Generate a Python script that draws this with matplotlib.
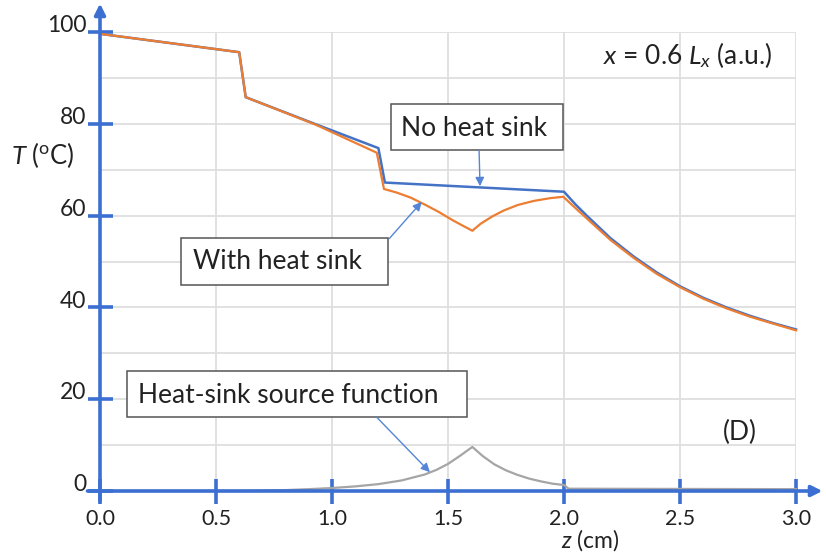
import matplotlib
matplotlib.use('Agg')
import matplotlib.pyplot as plt
from matplotlib.patches import Rectangle
from matplotlib.ticker import MultipleLocator
from matplotlib.transforms import ScaledTranslation

# ---- data ----
z_no = [0.0, 0.585, 0.60, 0.628, 0.93, 1.20, 1.228, 2.00, 2.05, 2.10, 2.20, 2.30,
        2.40, 2.50, 2.60, 2.70, 2.80, 2.90, 3.00]
T_no = [99.6, 95.7, 95.6, 85.8, 79.9, 74.7, 67.2, 65.2, 62.4, 59.9, 55.1, 51.1,
        47.6, 44.6, 42.1, 40.0, 38.2, 36.6, 35.2]

z_with = [0.0, 0.585, 0.60, 0.628, 0.93, 1.193, 1.224, 1.28, 1.34, 1.40, 1.46, 1.52,
          1.56, 1.605, 1.64, 1.69, 1.74, 1.80, 1.87, 1.94, 1.997, 2.05, 2.10, 2.20,
          2.30, 2.40, 2.50, 2.60, 2.70, 2.80, 2.90, 3.00]
T_with = [99.6, 95.7, 95.6, 85.8, 79.8, 73.7, 65.8, 65.0, 63.9, 62.4, 60.8, 59.0,
          57.9, 56.7, 58.2, 59.8, 61.1, 62.3, 63.2, 63.8, 64.1, 61.6, 59.3, 54.7,
          50.8, 47.3, 44.4, 41.9, 39.8, 38.0, 36.5, 35.0]

z_src = [0.0, 0.6, 0.7, 0.8, 0.9, 1.0, 1.1, 1.2, 1.3, 1.4, 1.45, 1.5, 1.55, 1.605,
         1.65, 1.70, 1.75, 1.80, 1.85, 1.90, 1.95, 2.00, 2.02, 3.00]
S_src = [0.0, 0.0, 0.1, 0.2, 0.4, 0.65, 1.0, 1.5, 2.3, 3.6, 4.6, 5.9, 7.6, 9.6,
         7.6, 5.8, 4.5, 3.5, 2.7, 2.1, 1.6, 1.3, 0.5, 0.4]

xticks = [0.0, 0.5, 1.0, 1.5, 2.0, 2.5, 3.0]
xticklabels = ['0.0', '0.5', '1.0', '1.5', '2.0', '2.5', '3.0']
yticks = [0, 20, 40, 60, 80, 100]
yticklabels = ['0', '20', '40', '60', '80', '100']

# ---- style ----
FONT = 'Lato'
plt.rcParams['font.family'] = [FONT, 'DejaVu Sans']
plt.rcParams['mathtext.fontset'] = 'custom'
plt.rcParams['mathtext.rm'] = FONT
plt.rcParams['mathtext.it'] = FONT + ':italic'

AXBLUE = '#3B6FD1'
BLUE = '#4472C4'
ORANGE = '#ED7D31'
GRAY = '#A5A5A5'
ARROW = '#5585D6'
TXT = '#222222'

fig = plt.figure(figsize=(8.26, 5.55), dpi=100)
ax = fig.add_axes([100/826, 1-491/555, 696/826, 459/555])
ax.set_xlim(0, 3)
ax.set_ylim(0, 100)

for s in ax.spines.values():
    s.set_visible(False)

ax.set_xticks(xticks)
ax.set_xticklabels(xticklabels)
ax.set_yticks(yticks)
ax.set_yticklabels(yticklabels)
ax.yaxis.set_minor_locator(MultipleLocator(10))
ax.tick_params(axis='both', which='major', direction='inout', length=18, width=2.6,
               color=AXBLUE, labelcolor=TXT)
ax.tick_params(axis='y', which='major', pad=1, labelsize=16.5)
ax.tick_params(axis='x', which='major', pad=4, labelsize=15.5)
ax.tick_params(which='minor', length=0)
ax.grid(True, which='major', color='#DEDEDE', lw=1.3)
ax.grid(True, which='minor', axis='y', color='#DEDEDE', lw=1.3)
ax.set_axisbelow(True)

off = ScaledTranslation(0, 6/72, fig.dpi_scale_trans)
for lab in ax.get_yticklabels():
    lab.set_transform(lab.get_transform() + off)

# axis arrows
ax.annotate('', xy=(1.038, 0), xytext=(-0.018, 0), xycoords='axes fraction',
            textcoords='axes fraction',
            arrowprops=dict(arrowstyle='-|>', color=AXBLUE, lw=2.6,
                            mutation_scale=16, shrinkA=0, shrinkB=0), zorder=6)
ax.annotate('', xy=(0, 1.062), xytext=(0, -0.022), xycoords='axes fraction',
            textcoords='axes fraction',
            arrowprops=dict(arrowstyle='-|>', color=AXBLUE, lw=2.6,
                            mutation_scale=16, shrinkA=0, shrinkB=0), zorder=6)

# curves
ax.plot(z_src, S_src, color=GRAY, lw=1.6, zorder=3, clip_on=False)
ax.plot(z_no, T_no, color=BLUE, lw=1.8, zorder=3, clip_on=False)
ax.plot(z_with, T_with, color=ORANGE, lw=1.6, zorder=3.5, clip_on=False)

# annotation boxes
def box(z0, T0, z1, T1, txt, zc, Tc):
    ax.add_patch(Rectangle((z0, T1), z1 - z0, T0 - T1, facecolor='white',
                           edgecolor='#555555', lw=1.1, zorder=4))
    ax.text(zc, Tc, txt, ha='center', va='center', fontsize=19, color=TXT, zorder=5)

def arrow(za, Ta, zb, Tb):
    ax.annotate('', xy=(zb, Tb), xytext=(za, Ta),
                arrowprops=dict(arrowstyle='-|>', color=ARROW, lw=1.0,
                                mutation_scale=13, shrinkA=0, shrinkB=0), zorder=5)

box(1.253, 84.3, 1.994, 74.2, 'No heat sink', 1.613, 79.0)
box(0.349, 55.05, 1.241, 44.9, 'With heat sink', 0.764, 49.9)
box(0.115, 26.2, 1.584, 16.06, 'Heat-sink source function', 0.812, 20.9)

arrow(1.634, 74.2, 1.638, 66.4)
arrow(1.247, 55.0, 1.387, 63.0)
arrow(1.193, 16.06, 1.422, 4.1)

ax.text(2.532, 95.0, r'$x$ = 0.6 $L_x$ (a.u.)', ha='center', va='center',
        fontsize=19, color=TXT)
ax.text(2.759, 12.85, '(D)', ha='center', va='center', fontsize=19, color=TXT)
ax.text(2.112, -10.8, r'$z$ (cm)', ha='center', va='center', fontsize=16.5,
        color=TXT, clip_on=False)
ax.text(-0.246, 73.2, r'$T$ ($^{\mathrm{o}}$C)', ha='center', va='center',
        fontsize=18.5, color=TXT, clip_on=False)

fig.savefig('out.png', dpi=100)
